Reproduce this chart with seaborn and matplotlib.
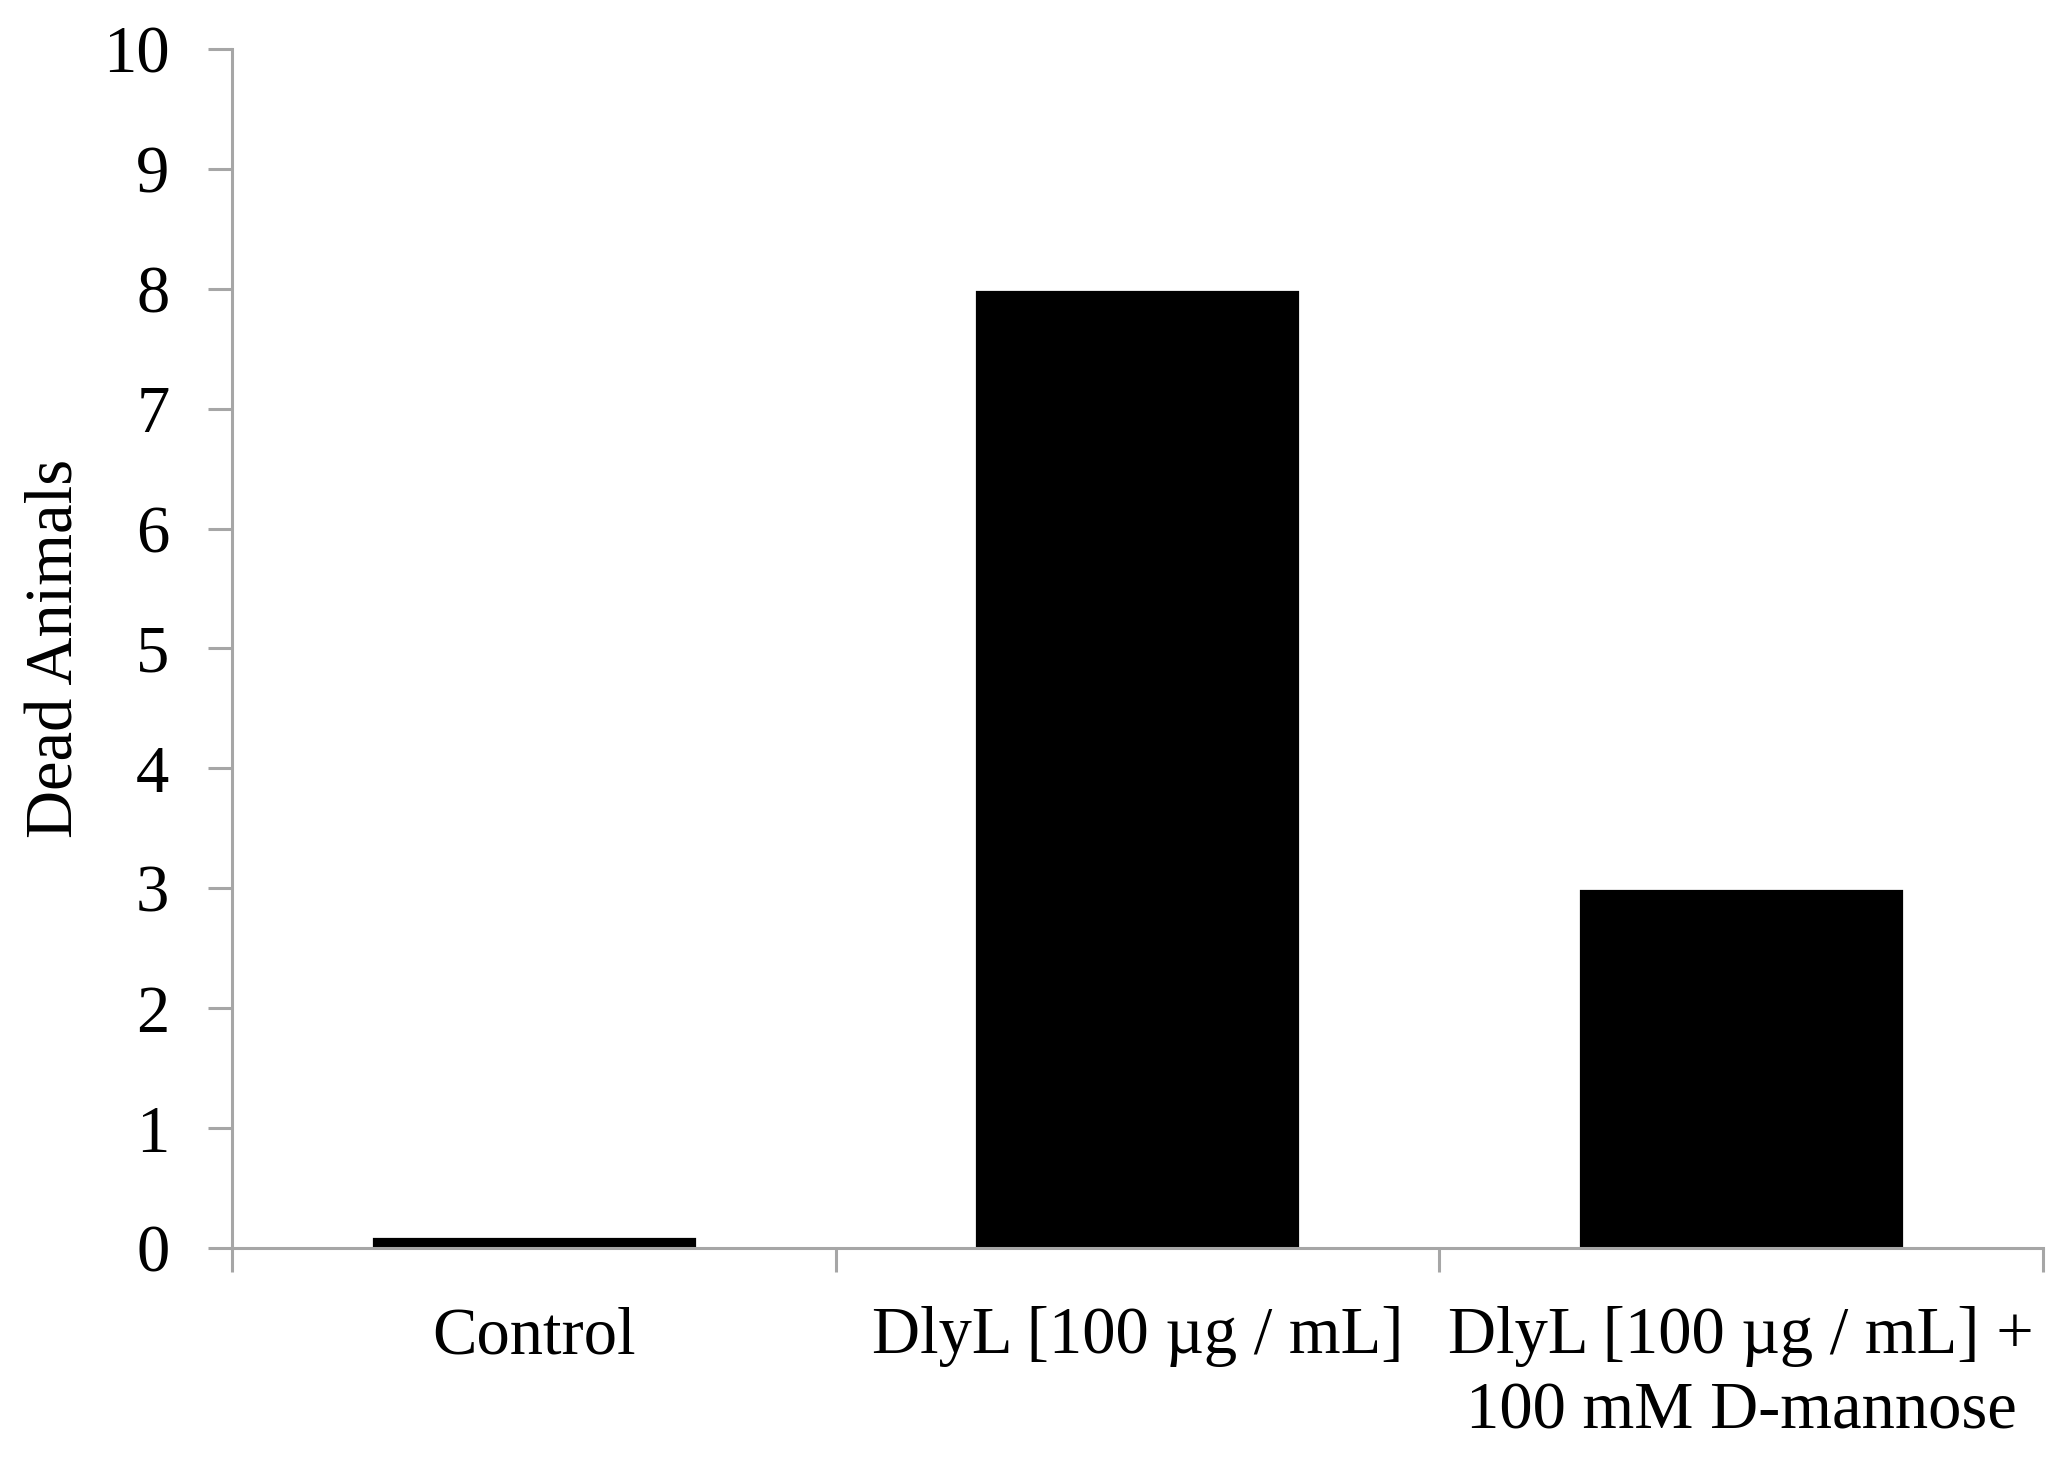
import matplotlib
matplotlib.use("Agg")
import matplotlib.pyplot as plt
import seaborn as sns
import pandas as pd

# Data
groups = ["Control", "DlyL [100 µg / mL]", "DlyL [100 µg / mL] +\n100 mM D-mannose"]
dead_animals = [0.1, 8, 3]

df = pd.DataFrame({"group": groups, "dead": dead_animals})

sns.set_style("ticks")
plt.rcParams["font.family"] = ["Liberation Serif", "DejaVu Serif"]
plt.rcParams["text.color"] = "black"
plt.rcParams["xtick.labelcolor"] = "black"
plt.rcParams["ytick.labelcolor"] = "black"
plt.rcParams["axes.labelcolor"] = "black"

fig, ax = plt.subplots(figsize=(10.32, 7.31), dpi=200)
fig.subplots_adjust(left=0.1124, right=0.9898, top=0.9665, bottom=0.1464)

sns.barplot(data=df, x="group", y="dead", color="black", width=0.54,
            saturation=1, ax=ax)

axis_gray = "#a6a6a6"
ax.set_xlim(-0.5, 2.5)
ax.set_ylim(0, 10)
ax.set_yticks(range(0, 11))
ax.set_xticks([-0.5, 0.5, 1.5, 2.5])
ax.set_xticklabels([])
ax.set_xticks([0, 1, 2], minor=True)
ax.set_xticklabels(groups, minor=True, fontsize=24, linespacing=1.3)
ax.tick_params(axis="x", which="minor", length=0, pad=21)
ax.tick_params(axis="x", which="major", length=8.5, width=1.1, color=axis_gray)
ax.tick_params(axis="y", length=8.5, width=1.1, color=axis_gray, labelsize=24, pad=14)

sns.despine(ax=ax)
for side in ["left", "bottom"]:
    ax.spines[side].set_color(axis_gray)
    ax.spines[side].set_linewidth(1.1)

ax.set_xlabel("")
ax.set_ylabel("Dead Animals", fontsize=24, labelpad=6)

fig.savefig("out.png", dpi=200)
